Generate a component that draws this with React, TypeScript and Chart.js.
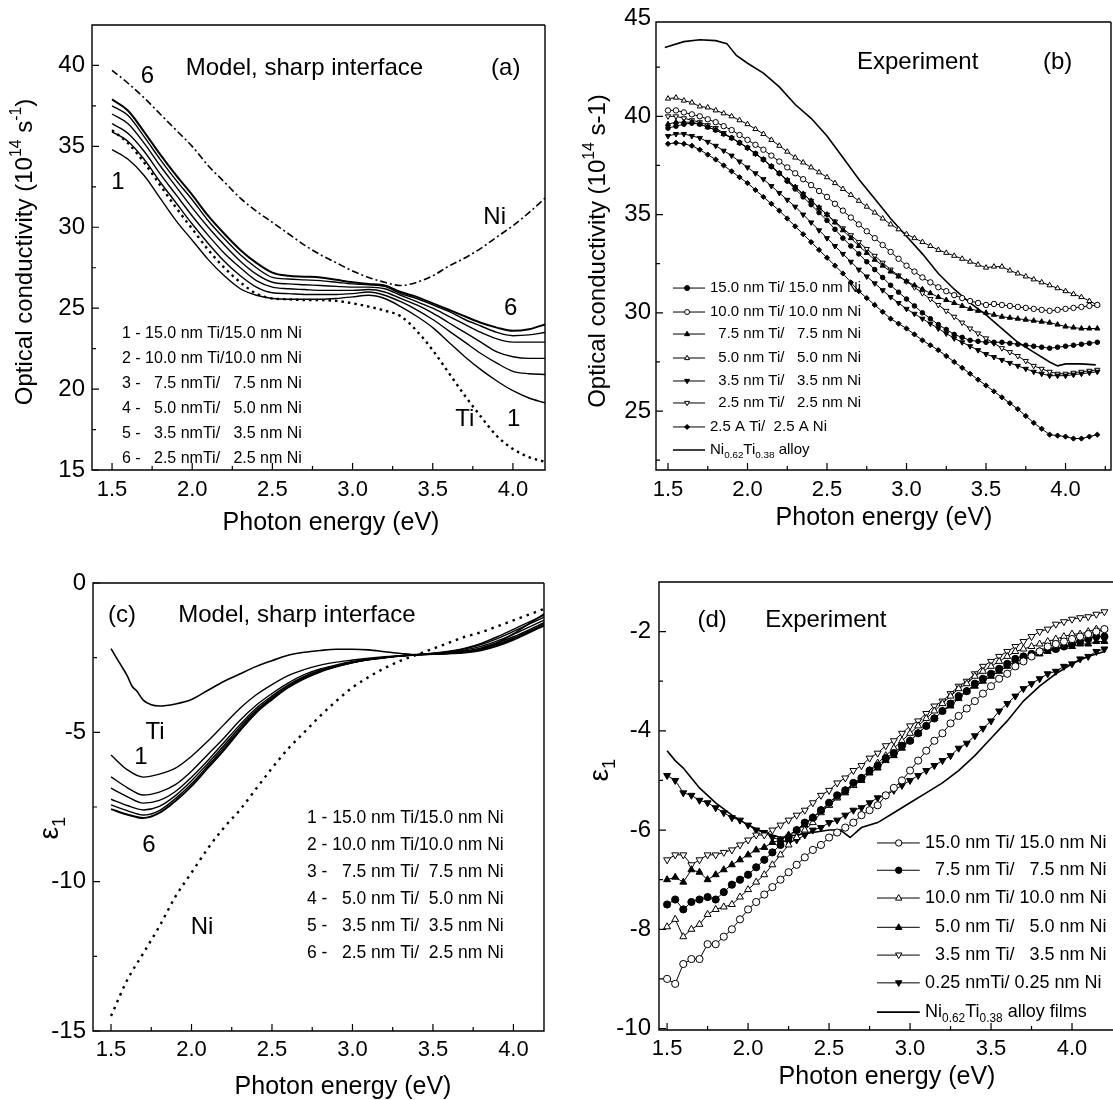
import React, { useEffect, useRef } from "react";
import { Chart, registerables } from "chart.js";
Chart.register(...registerables);

const FONT = '"Liberation Sans", Arial, Helvetica, sans-serif';

// ---------------- energy grids (eV) ----------------
const ENERGY = [1.5, 1.6, 1.7, 1.8, 1.9, 2.0, 2.1, 2.2, 2.3, 2.4, 2.5, 2.6, 2.7, 2.8, 2.9, 3.0, 3.1, 3.2, 3.3, 3.4, 3.5, 3.6, 3.7, 3.8, 3.9, 4.0, 4.1, 4.2];
const E_FINE = [1.5, 1.55, 1.6, 1.65, 1.7, 1.75, 1.8, 1.85, 1.9, 1.95, 2.0, 2.05, 2.1, 2.15, 2.2, 2.25, 2.3, 2.35, 2.4, 2.45, 2.5, 2.55, 2.6, 2.65, 2.7, 2.75, 2.8, 2.85, 2.9, 2.95, 3.0, 3.05, 3.1, 3.15, 3.2, 3.25, 3.3, 3.35, 3.4, 3.45, 3.5, 3.55, 3.6, 3.65, 3.7, 3.75, 3.8, 3.85, 3.9, 3.95, 4.0, 4.05, 4.1, 4.15, 4.2];

// ---------------- panel (a): model optical conductivity ----------------
const A_CURVE1 = [34.8, 34.2, 33.2, 31.8, 30.4, 29.2, 28.0, 27.0, 26.2, 25.8, 25.6, 25.55, 25.55, 25.55, 25.6, 25.7, 25.8, 25.6, 25.1, 24.5, 23.8, 22.9, 22.0, 21.2, 20.5, 19.9, 19.45, 19.15];
const A_CURVE2 = [35.9, 35.3, 34.2, 32.8, 31.5, 30.2, 29.0, 27.9, 27.0, 26.3, 25.95, 25.9, 25.85, 25.85, 25.85, 25.9, 26.0, 25.8, 25.4, 24.9, 24.3, 23.6, 22.9, 22.2, 21.6, 21.1, 20.95, 20.9];
const A_CURVE3 = [36.4, 35.8, 34.7, 33.3, 32.0, 30.7, 29.5, 28.4, 27.5, 26.7, 26.3, 26.2, 26.15, 26.1, 26.1, 26.1, 26.15, 26.0, 25.6, 25.2, 24.7, 24.1, 23.5, 22.9, 22.3, 22.0, 21.9, 21.9];
const A_CURVE4 = [37.0, 36.4, 35.2, 33.8, 32.5, 31.2, 30.0, 28.9, 27.9, 27.1, 26.6, 26.5, 26.45, 26.4, 26.35, 26.3, 26.3, 26.2, 25.8, 25.4, 25.0, 24.5, 24.0, 23.5, 23.1, 22.9, 22.9, 22.9];
const A_CURVE5 = [37.5, 36.9, 35.6, 34.2, 32.9, 31.7, 30.4, 29.3, 28.3, 27.5, 26.9, 26.8, 26.75, 26.7, 26.6, 26.5, 26.45, 26.35, 25.9, 25.6, 25.2, 24.8, 24.3, 23.9, 23.5, 23.3, 23.35, 23.5];
const A_CURVE6 = [37.9, 37.2, 35.9, 34.5, 33.2, 32.0, 30.7, 29.6, 28.6, 27.8, 27.2, 27.0, 26.95, 26.9, 26.75, 26.6, 26.5, 26.4, 26.0, 25.7, 25.3, 24.9, 24.5, 24.1, 23.8, 23.6, 23.7, 24.0];
const A_TI = [36.0, 35.2, 34.0, 32.6, 31.2, 29.9, 28.6, 27.5, 26.6, 25.9, 25.6, 25.55, 25.5, 25.5, 25.45, 25.3, 25.1, 24.85, 24.5, 23.6, 22.4, 21.0, 19.6, 18.3, 17.1, 16.3, 15.8, 15.5];
const A_NI = [39.7, 38.9, 38.0, 37.0, 36.0, 35.0, 33.8, 32.8, 31.8, 31.0, 30.3, 29.6, 28.9, 28.3, 27.8, 27.3, 26.9, 26.6, 26.4, 26.6, 27.0, 27.6, 28.1, 28.7, 29.4, 30.1, 30.9, 31.8];
const A_LEGEND = ["1 - 15.0 nm Ti/15.0 nm Ni", "2 - 10.0 nm Ti/10.0 nm Ni", "3 -   7.5 nmTi/   7.5 nm Ni", "4 -   5.0 nmTi/   5.0 nm Ni", "5 -   3.5 nmTi/   3.5 nm Ni", "6 -   2.5 nmTi/   2.5 nm Ni"];
const A_X_TICKS = [1.5, 2.0, 2.5, 3.0, 3.5, 4.0];
const A_X_MINOR = [1.75, 2.25, 2.75, 3.25, 3.75];
const A_Y_TICKS = [15, 20, 25, 30, 35, 40];
const A_Y_MINOR = [17.5, 22.5, 27.5, 32.5, 37.5];

// ---------------- panel (b): experimental optical conductivity ----------------
const B_15NM = [39.4, 39.5, 39.6, 39.65, 39.6, 39.45, 39.3, 39.1, 38.9, 38.65, 38.4, 38.1, 37.8, 37.45, 37.1, 36.7, 36.3, 35.9, 35.5, 35.1, 34.7, 34.25, 33.8, 33.4, 33.0, 32.6, 32.2, 31.8, 31.4, 31.05, 30.7, 30.35, 30.0, 29.7, 29.4, 29.15, 28.9, 28.75, 28.6, 28.55, 28.5, 28.5, 28.5, 28.45, 28.4, 28.35, 28.3, 28.25, 28.2, 28.25, 28.3, 28.35, 28.4, 28.45, 28.5];
const B_10NM = [40.3, 40.3, 40.2, 40.1, 40.0, 39.85, 39.7, 39.5, 39.3, 39.05, 38.8, 38.55, 38.3, 38.0, 37.7, 37.4, 37.1, 36.8, 36.5, 36.2, 35.9, 35.55, 35.2, 34.85, 34.5, 34.15, 33.8, 33.45, 33.1, 32.75, 32.4, 32.1, 31.8, 31.55, 31.3, 31.1, 30.9, 30.75, 30.6, 30.5, 30.4, 30.45, 30.4, 30.35, 30.3, 30.25, 30.2, 30.15, 30.1, 30.15, 30.2, 30.25, 30.3, 30.35, 30.4];
const B_7_5NM = [39.6, 39.7, 39.7, 39.7, 39.6, 39.45, 39.3, 39.1, 38.9, 38.65, 38.4, 38.1, 37.8, 37.45, 37.1, 36.75, 36.4, 36.05, 35.7, 35.35, 35.0, 34.6, 34.2, 33.8, 33.4, 33.05, 32.7, 32.4, 32.1, 31.85, 31.6, 31.4, 31.2, 31.0, 30.8, 30.65, 30.5, 30.35, 30.2, 30.1, 30.0, 29.9, 29.8, 29.75, 29.7, 29.65, 29.6, 29.55, 29.5, 29.4, 29.3, 29.25, 29.2, 29.2, 29.2];
const B_5NM = [40.9, 40.95, 40.8, 40.7, 40.5, 40.45, 40.3, 40.15, 40.0, 39.8, 39.6, 39.35, 39.1, 38.8, 38.5, 38.2, 37.9, 37.65, 37.4, 37.15, 36.9, 36.6, 36.3, 36.0, 35.7, 35.4, 35.1, 34.8, 34.5, 34.25, 34.0, 33.8, 33.6, 33.4, 33.2, 33.05, 32.9, 32.75, 32.6, 32.45, 32.3, 32.35, 32.35, 32.15, 32.0, 31.85, 31.7, 31.55, 31.4, 31.25, 31.1, 30.95, 30.8, 30.6, 30.4];
const B_3_5NM = [39.0, 39.1, 39.1, 39.0, 38.9, 38.7, 38.5, 38.25, 38.0, 37.7, 37.4, 37.1, 36.8, 36.45, 36.1, 35.75, 35.4, 35.0, 34.6, 34.2, 33.8, 33.4, 33.0, 32.6, 32.2, 31.85, 31.5, 31.15, 30.8, 30.5, 30.2, 29.95, 29.7, 29.45, 29.2, 28.95, 28.7, 28.5, 28.3, 28.1, 27.9, 27.75, 27.6, 27.45, 27.3, 27.15, 27.0, 26.9, 26.8, 26.8, 26.8, 26.85, 26.9, 26.95, 27.0];
const B_2_5NM = [40.0, 40.0, 39.9, 39.8, 39.7, 39.55, 39.4, 39.15, 38.9, 38.65, 38.4, 38.1, 37.8, 37.45, 37.1, 36.75, 36.4, 36.05, 35.7, 35.35, 35.0, 34.65, 34.3, 33.95, 33.6, 33.25, 32.9, 32.55, 32.2, 31.9, 31.6, 31.3, 31.0, 30.7, 30.4, 30.1, 29.8, 29.5, 29.2, 28.95, 28.7, 28.45, 28.2, 28.0, 27.8, 27.55, 27.3, 27.15, 27.0, 26.9, 26.9, 26.95, 27.0, 27.05, 27.1];
const B_2_5A = [38.6, 38.65, 38.6, 38.5, 38.3, 38.05, 37.8, 37.5, 37.2, 36.9, 36.6, 36.25, 35.9, 35.55, 35.2, 34.8, 34.4, 34.0, 33.6, 33.2, 32.8, 32.4, 32.0, 31.55, 31.1, 30.75, 30.4, 30.05, 29.7, 29.45, 29.2, 28.9, 28.6, 28.35, 28.1, 27.8, 27.5, 27.2, 26.9, 26.6, 26.3, 26.0, 25.7, 25.4, 25.1, 24.75, 24.4, 24.1, 23.8, 23.75, 23.7, 23.6, 23.6, 23.7, 23.8];
const B_ALLOY_E = [1.48, 1.6, 1.7, 1.8, 1.87, 1.93, 2.0, 2.1, 2.2, 2.3, 2.4, 2.5, 2.6, 2.7, 2.8, 2.9, 3.0, 3.1, 3.2, 3.3, 3.4, 3.5, 3.6, 3.7, 3.8, 3.9, 3.95, 4.0, 4.1, 4.19];
const B_ALLOY = [43.5, 43.8, 43.9, 43.85, 43.7, 43.1, 42.7, 42.2, 41.5, 40.6, 39.9, 39.0, 37.9, 36.8, 35.8, 34.8, 33.9, 33.0, 32.0, 31.2, 30.5, 29.9, 29.2, 28.5, 28.0, 27.5, 27.3, 27.4, 27.4, 27.35];
const B_LEGEND = ["15.0 nm Ti/ 15.0 nm Ni", "10.0 nm Ti/ 10.0 nm Ni", "  7.5 nm Ti/   7.5 nm Ni", "  5.0 nm Ti/   5.0 nm Ni", "  3.5 nm Ti/   3.5 nm Ni", "  2.5 nm Ti/   2.5 nm Ni", "2.5 A Ti/  2.5 A Ni"];
const B_X_TICKS = [1.5, 2.0, 2.5, 3.0, 3.5, 4.0];
const B_X_MINOR = [1.75, 2.25, 2.75, 3.25, 3.75, 4.25];
const B_Y_TICKS = [25, 30, 35, 40, 45];
const B_Y_MINOR = [22.5, 27.5, 32.5, 37.5, 42.5];

// ---------------- panel (c): model epsilon_1 ----------------
const C_CURVE1 = [-5.76, -6.25, -6.5, -6.4, -6.2, -5.8, -5.3, -4.75, -4.2, -3.75, -3.4, -3.1, -2.9, -2.75, -2.65, -2.58, -2.52, -2.47, -2.43, -2.4, -2.35, -2.28, -2.18, -2.02, -1.8, -1.55, -1.3, -1.05];
const C_CURVE2 = [-6.49, -6.85, -7.1, -7.0, -6.75, -6.3, -5.75, -5.2, -4.6, -4.1, -3.7, -3.35, -3.07, -2.88, -2.74, -2.63, -2.55, -2.49, -2.44, -2.4, -2.36, -2.3, -2.2, -2.06, -1.86, -1.62, -1.37, -1.12];
const C_CURVE3 = [-6.87, -7.15, -7.37, -7.28, -6.98, -6.5, -5.95, -5.35, -4.75, -4.2, -3.78, -3.42, -3.13, -2.92, -2.77, -2.65, -2.56, -2.49, -2.44, -2.4, -2.37, -2.32, -2.24, -2.12, -1.94, -1.72, -1.47, -1.22];
const C_CURVE4 = [-7.24, -7.45, -7.6, -7.48, -7.12, -6.62, -6.05, -5.45, -4.83, -4.27, -3.83, -3.46, -3.16, -2.94, -2.78, -2.66, -2.56, -2.5, -2.44, -2.4, -2.37, -2.33, -2.27, -2.17, -2.0, -1.8, -1.56, -1.3];
const C_CURVE5 = [-7.43, -7.62, -7.77, -7.62, -7.22, -6.72, -6.13, -5.52, -4.9, -4.32, -3.87, -3.48, -3.18, -2.96, -2.79, -2.66, -2.56, -2.5, -2.44, -2.4, -2.38, -2.35, -2.3, -2.21, -2.05, -1.85, -1.6, -1.35];
const C_CURVE6 = [-7.57, -7.75, -7.87, -7.7, -7.3, -6.8, -6.2, -5.6, -4.95, -4.35, -3.9, -3.5, -3.2, -2.97, -2.8, -2.66, -2.56, -2.5, -2.44, -2.4, -2.38, -2.36, -2.33, -2.25, -2.1, -1.9, -1.65, -1.4];
const C_TI_E = [1.5, 1.55, 1.6, 1.63, 1.66, 1.7, 1.75, 1.8, 1.9, 2.0, 2.1, 2.2, 2.3, 2.4, 2.5, 2.6, 2.7, 2.8, 2.9, 3.0, 3.1, 3.2, 3.3, 3.4, 3.5, 3.6, 3.7, 3.8, 3.9, 4.0, 4.1, 4.2];
const C_TI = [-2.2, -2.65, -3.1, -3.45, -3.62, -3.92, -4.08, -4.12, -4.05, -3.9, -3.6, -3.3, -3.05, -2.8, -2.6, -2.42, -2.32, -2.26, -2.22, -2.22, -2.24, -2.3, -2.36, -2.4, -2.38, -2.35, -2.3, -2.2, -2.0, -1.7, -1.35, -1.0];
const C_NI = [-14.5, -13.3, -12.4, -11.5, -10.5, -9.7, -8.9, -8.2, -7.6, -6.9, -6.2, -5.55, -5.0, -4.45, -3.95, -3.5, -3.15, -2.85, -2.6, -2.4, -2.2, -2.0, -1.8, -1.65, -1.45, -1.25, -1.05, -0.85];
const C_LEGEND = ["1 - 15.0 nm Ti/15.0 nm Ni", "2 - 10.0 nm Ti/10.0 nm Ni", "3 -   7.5 nm Ti/  7.5 nm Ni", "4 -   5.0 nm Ti/  5.0 nm Ni", "5 -   3.5 nm Ti/  3.5 nm Ni", "6 -   2.5 nm Ti/  2.5 nm Ni"];
const C_X_TICKS = [1.5, 2.0, 2.5, 3.0, 3.5, 4.0];
const C_X_MINOR = [1.75, 2.25, 2.75, 3.25, 3.75];
const C_Y_TICKS = [-15, -10, -5, 0];
const C_Y_MINOR = [-12.5, -7.5, -2.5];

// ---------------- panel (d): experimental epsilon_1 ----------------
const D_15NM = [-9.0, -9.1, -8.7, -8.6, -8.6, -8.3, -8.3, -8.15, -8.0, -7.8, -7.6, -7.45, -7.3, -7.15, -7.0, -6.85, -6.7, -6.55, -6.4, -6.3, -6.15, -6.05, -5.95, -5.85, -5.7, -5.6, -5.5, -5.3, -5.15, -5.0, -4.8, -4.6, -4.4, -4.2, -4.05, -3.85, -3.7, -3.55, -3.4, -3.25, -3.1, -2.95, -2.85, -2.7, -2.6, -2.5, -2.4, -2.3, -2.25, -2.2, -2.15, -2.1, -2.05, -2.0, -1.95];
const D_7_5NM = [-7.5, -7.4, -7.6, -7.45, -7.4, -7.35, -7.4, -7.25, -7.1, -7.0, -6.9, -6.75, -6.6, -6.45, -6.3, -6.15, -6.0, -5.85, -5.75, -5.6, -5.45, -5.3, -5.2, -5.05, -4.95, -4.8, -4.7, -4.55, -4.45, -4.3, -4.2, -4.05, -3.9, -3.75, -3.6, -3.45, -3.3, -3.2, -3.05, -2.95, -2.85, -2.75, -2.65, -2.55, -2.5, -2.45, -2.4, -2.35, -2.35, -2.3, -2.25, -2.2, -2.15, -2.1, -2.1];
const D_10NM = [-7.95, -7.8, -8.15, -8.0, -7.9, -7.7, -7.6, -7.55, -7.5, -7.35, -7.2, -7.05, -6.9, -6.7, -6.5, -6.3, -6.15, -6.0, -5.85, -5.65, -5.5, -5.35, -5.2, -5.1, -4.95, -4.8, -4.65, -4.5, -4.35, -4.2, -4.05, -3.9, -3.75, -3.6, -3.45, -3.3, -3.15, -3.05, -2.9, -2.8, -2.7, -2.6, -2.5, -2.4, -2.35, -2.3, -2.25, -2.2, -2.15, -2.1, -2.05, -2.05, -2.0, -1.95, -1.95];
const D_5NM = [-7.0, -6.95, -7.05, -6.8, -6.85, -7.0, -6.9, -6.8, -6.7, -6.6, -6.5, -6.4, -6.35, -6.25, -6.2, -6.1, -6.0, -5.9, -5.75, -5.6, -5.5, -5.35, -5.25, -5.1, -5.0, -4.85, -4.75, -4.6, -4.5, -4.35, -4.2, -4.05, -3.9, -3.75, -3.6, -3.5, -3.35, -3.2, -3.1, -3.0, -2.9, -2.8, -2.7, -2.6, -2.55, -2.5, -2.45, -2.4, -2.35, -2.3, -2.3, -2.25, -2.25, -2.2, -2.2];
const D_3_5NM = [-6.6, -6.5, -6.5, -6.7, -6.6, -6.5, -6.5, -6.45, -6.4, -6.3, -6.2, -6.1, -6.1, -6.0, -5.9, -5.8, -5.7, -5.6, -5.45, -5.3, -5.2, -5.05, -4.95, -4.8, -4.7, -4.55, -4.45, -4.3, -4.2, -4.05, -3.9, -3.8, -3.65, -3.5, -3.4, -3.25, -3.1, -3.0, -2.85, -2.7, -2.6, -2.5, -2.4, -2.3, -2.2, -2.1, -2.0, -1.95, -1.85, -1.8, -1.75, -1.72, -1.7, -1.65, -1.6];
const D_0_25NM = [-4.9, -5.0, -5.25, -5.3, -5.4, -5.45, -5.55, -5.65, -5.75, -5.8, -5.9, -6.0, -6.05, -6.15, -6.2, -6.25, -6.2, -6.1, -6.0, -5.95, -5.85, -5.8, -5.7, -5.6, -5.55, -5.45, -5.35, -5.3, -5.2, -5.1, -5.0, -4.9, -4.8, -4.7, -4.6, -4.5, -4.35, -4.25, -4.1, -3.95, -3.8, -3.6, -3.45, -3.3, -3.15, -3.05, -2.95, -2.85, -2.8, -2.7, -2.65, -2.55, -2.5, -2.4, -2.35];
const D_ALLOY_E = [1.5, 1.55, 1.6, 1.65, 1.7, 1.8, 1.9, 2.0, 2.1, 2.2, 2.3, 2.4, 2.5, 2.57, 2.63, 2.7, 2.8, 2.9, 3.0, 3.1, 3.2, 3.3, 3.4, 3.5, 3.6, 3.7, 3.8, 3.9, 4.0, 4.1, 4.2];
const D_ALLOY = [-4.4, -4.6, -4.75, -4.95, -5.15, -5.45, -5.7, -5.9, -6.05, -6.15, -6.1, -6.05, -6.0, -6.0, -6.15, -5.95, -5.85, -5.65, -5.45, -5.25, -5.05, -4.8, -4.5, -4.15, -3.8, -3.4, -3.1, -2.85, -2.65, -2.5, -2.4];
const D_LEGEND = ["15.0 nm Ti/ 15.0 nm Ni", "  7.5 nm Ti/   7.5 nm Ni", "10.0 nm Ti/ 10.0 nm Ni", "  5.0 nm Ti/   5.0 nm Ni", "  3.5 nm Ti/   3.5 nm Ni", "0.25 nmTi/ 0.25 nm Ni"];
const D_X_TICKS = [1.5, 2.0, 2.5, 3.0, 3.5, 4.0];
const D_X_MINOR = [1.75, 2.25, 2.75, 3.25, 3.75];
const D_Y_TICKS = [-10, -8, -6, -4, -2];
const D_Y_MINOR = [-9, -7, -5, -3];

// ---------------- helpers ----------------
type Seg = { t: string; sub?: boolean; sup?: boolean };
type MarkerKind = "circle" | "up" | "down" | "diamond";

const pts = (xs: number[], ys: number[]) => xs.map((x, i) => ({ x, y: ys[i] }));

function richWidth(ctx: CanvasRenderingContext2D, segs: Seg[], size: number) {
  let w = 0;
  for (const s of segs) {
    ctx.font = `${s.sub || s.sup ? size * 0.66 : size}px ${FONT}`;
    w += ctx.measureText(s.t).width;
  }
  return w;
}

function drawRich(ctx: CanvasRenderingContext2D, segs: Seg[] | string, x: number, y: number, size: number, align: "left" | "center" = "left") {
  const list: Seg[] = typeof segs === "string" ? [{ t: segs }] : segs;
  const w = richWidth(ctx, list, size);
  let cx = align === "center" ? x - w / 2 : x;
  ctx.textBaseline = "middle";
  ctx.textAlign = "left";
  for (const s of list) {
    const sz = s.sub || s.sup ? size * 0.66 : size;
    ctx.font = `${sz}px ${FONT}`;
    const dy = s.sub ? size * 0.34 : s.sup ? -size * 0.36 : 0;
    ctx.fillText(s.t, cx, y + dy);
    cx += ctx.measureText(s.t).width;
  }
}

function drawMarker(ctx: CanvasRenderingContext2D, kind: MarkerKind, x: number, y: number, r: number, filled: boolean) {
  ctx.beginPath();
  if (kind === "circle") ctx.arc(x, y, r, 0, Math.PI * 2);
  else if (kind === "up") {
    ctx.moveTo(x, y - r * 1.1);
    ctx.lineTo(x + r, y + r * 0.65);
    ctx.lineTo(x - r, y + r * 0.65);
    ctx.closePath();
  } else if (kind === "down") {
    ctx.moveTo(x, y + r * 1.1);
    ctx.lineTo(x + r, y - r * 0.65);
    ctx.lineTo(x - r, y - r * 0.65);
    ctx.closePath();
  } else {
    ctx.moveTo(x, y - r);
    ctx.lineTo(x + r, y);
    ctx.lineTo(x, y + r);
    ctx.lineTo(x - r, y);
    ctx.closePath();
  }
  ctx.fillStyle = filled ? "#000" : "#fff";
  ctx.fill();
  ctx.stroke();
}

type Ann = { segs: Seg[] | string; x: number; y: number; size: number; align?: "left" | "center" };
type LegendRow = { segs: Seg[] | string; y: number; kind?: MarkerKind; filled?: boolean; solid?: boolean };
type Legend = { x0: number; x1: number; xm: number; xt: number; size: number; r: number; rows: LegendRow[] };

interface PanelSpec {
  left: number; top: number; width: number; height: number;
  area: { l: number; t: number; r: number; b: number };
  xMin: number; xMax: number; yMin: number; yMax: number;
  xTicks: number[]; xMinor: number[]; yTicks: number[]; yMinor: number[];
  xDec: number; padX: number; padY: number; rightBorder: boolean;
  datasets: any[];
  anns: Ann[];
  legend?: Legend;
  xTitle: { x: number; y: number };
  yTitle: { x: number; y: number; segs: Seg[]; size: number };
}

function decor(spec: PanelSpec) {
  return {
    id: "decor",
    afterDraw(chart: any) {
      const ctx: CanvasRenderingContext2D = chart.ctx;
      const a = chart.chartArea;
      const xs = chart.scales.x;
      const ys = chart.scales.y;
      ctx.save();
      ctx.strokeStyle = "#000";
      ctx.fillStyle = "#000";
      ctx.lineWidth = 1.4;
      ctx.beginPath();
      ctx.moveTo(a.right, a.top);
      ctx.lineTo(a.left, a.top);
      ctx.lineTo(a.left, a.bottom);
      ctx.lineTo(a.right, a.bottom);
      if (spec.rightBorder) ctx.lineTo(a.right, a.top);
      ctx.stroke();
      ctx.lineWidth = 1.2;
      ctx.beginPath();
      const tick = (vals: number[], len: number, horiz: boolean) => {
        for (const v of vals) {
          if (horiz) {
            if (v < spec.xMin || v > spec.xMax) continue;
            const p = xs.getPixelForValue(v);
            ctx.moveTo(p, a.bottom);
            ctx.lineTo(p, a.bottom - len);
          } else {
            if (v < spec.yMin || v > spec.yMax) continue;
            const p = ys.getPixelForValue(v);
            ctx.moveTo(a.left, p);
            ctx.lineTo(a.left + len, p);
          }
        }
      };
      tick(spec.xTicks, 7, true);
      tick(spec.xMinor, 4, true);
      tick(spec.yTicks, 7, false);
      tick(spec.yMinor, 4, false);
      ctx.stroke();

      for (const an of spec.anns) {
        drawRich(ctx, an.segs, xs.getPixelForValue(an.x), ys.getPixelForValue(an.y), an.size, an.align || "center");
      }
      const lg = spec.legend;
      if (lg) {
        for (const row of lg.rows) {
          const py = ys.getPixelForValue(row.y);
          if (row.kind || row.solid) {
            ctx.lineWidth = row.solid ? 1.6 : 1;
            ctx.beginPath();
            ctx.moveTo(xs.getPixelForValue(lg.x0), py);
            ctx.lineTo(xs.getPixelForValue(lg.x1), py);
            ctx.stroke();
          }
          if (row.kind) {
            ctx.lineWidth = 1;
            drawMarker(ctx, row.kind, xs.getPixelForValue(lg.xm), py, lg.r, !!row.filled);
            ctx.fillStyle = "#000";
          }
          drawRich(ctx, row.segs, xs.getPixelForValue(lg.xt), py, lg.size, "left");
        }
      }
      ctx.fillStyle = "#000";
      drawRich(ctx, "Photon energy (eV)", spec.xTitle.x, spec.xTitle.y, 25, "center");
      ctx.save();
      ctx.translate(spec.yTitle.x, spec.yTitle.y);
      ctx.rotate(-Math.PI / 2);
      drawRich(ctx, spec.yTitle.segs, 0, 0, spec.yTitle.size, "center");
      ctx.restore();
      ctx.restore();
    },
  };
}

function Panel({ spec }: { spec: PanelSpec }) {
  const ref = useRef<HTMLCanvasElement | null>(null);
  useEffect(() => {
    if (!ref.current) return;
    const s = spec;
    const chart = new Chart(ref.current, {
      type: "line",
      data: { datasets: s.datasets },
      options: {
        responsive: false,
        animation: false,
        events: [],
        layout: { autoPadding: false, padding: { top: s.area.t, right: s.width - s.area.r, left: 0, bottom: 0 } },
        plugins: { legend: { display: false }, tooltip: { enabled: false } },
        scales: {
          x: {
            type: "linear",
            min: s.xMin,
            max: s.xMax,
            grid: { display: false, drawTicks: false },
            border: { display: false },
            afterBuildTicks: (sc: any) => { sc.ticks = s.xTicks.map((v) => ({ value: v })); },
            afterFit: (sc: any) => { sc.height = s.height - s.area.b; },
            ticks: {
              autoSkip: false,
              maxRotation: 0,
              padding: s.padX,
              color: "#000",
              font: { family: FONT, size: 22 },
              callback: (v: any) => Number(v).toFixed(s.xDec),
            },
          },
          y: {
            type: "linear",
            min: s.yMin,
            max: s.yMax,
            grid: { display: false, drawTicks: false },
            border: { display: false },
            afterBuildTicks: (sc: any) => { sc.ticks = s.yTicks.map((v) => ({ value: v })); },
            afterFit: (sc: any) => { sc.width = s.area.l; },
            ticks: {
              autoSkip: false,
              padding: s.padY,
              color: "#000",
              font: { family: FONT, size: 24 },
              callback: (v: any) => String(v),
            },
          },
        },
      } as any,
      plugins: [decor(s)],
    });
    return () => chart.destroy();
  }, [spec]);
  return (
    <canvas
      ref={ref}
      width={spec.width}
      height={spec.height}
      style={{ position: "absolute", left: spec.left, top: spec.top, width: spec.width, height: spec.height }}
    />
  );
}

// ---------------- dataset styles ----------------
const modelLine = (xs: number[], ys: number[], extra: any = {}) => ({
  data: pts(xs, ys),
  borderColor: "#000",
  backgroundColor: "#000",
  borderWidth: 1.4,
  pointRadius: 0,
  fill: false,
  cubicInterpolationMode: "monotone",
  ...extra,
});

const expSeries = (xs: number[], ys: number[], style: string, filled: boolean, r: number, rot = 0, lw = 1) => ({
  data: pts(xs, ys),
  borderColor: "#000",
  backgroundColor: "#000",
  borderWidth: lw,
  pointStyle: style,
  pointRotation: rot,
  pointRadius: r,
  pointBorderWidth: 1,
  pointBorderColor: "#000",
  pointBackgroundColor: filled ? "#000" : "#fff",
  fill: false,
  tension: 0,
});

const NI_ALLOY: Seg[] = [{ t: "Ni" }, { t: "0.62", sub: true }, { t: "Ti" }, { t: "0.38", sub: true }];

const SPEC_A: PanelSpec = {
  left: 0, top: 0, width: 556, height: 550,
  area: { l: 92, t: 25, r: 545, b: 470 },
  xMin: 1.375, xMax: 4.2, yMin: 15, yMax: 42.5,
  xTicks: A_X_TICKS, xMinor: A_X_MINOR, yTicks: A_Y_TICKS, yMinor: A_Y_MINOR,
  xDec: 1, padX: 7, padY: 7, rightBorder: true,
  datasets: [
    modelLine(ENERGY, A_CURVE1),
    modelLine(ENERGY, A_CURVE2),
    modelLine(ENERGY, A_CURVE3),
    modelLine(ENERGY, A_CURVE4),
    modelLine(ENERGY, A_CURVE5),
    modelLine(ENERGY, A_CURVE6, { borderWidth: 2 }),
    modelLine(ENERGY, A_TI, { borderDash: [2.5, 4], borderWidth: 2.4 }),
    modelLine(ENERGY, A_NI, { borderDash: [7, 3, 2, 3], borderWidth: 1.6 }),
  ],
  anns: [
    { segs: "Model, sharp interface", x: 2.70, y: 39.84, size: 24 },
    { segs: "(a)", x: 3.955, y: 39.84, size: 24 },
    { segs: "6", x: 1.72, y: 39.3, size: 24 },
    { segs: "1", x: 1.537, y: 32.8, size: 24 },
    { segs: "Ni", x: 3.886, y: 30.63, size: 24 },
    { segs: "6", x: 3.986, y: 25.0, size: 24 },
    { segs: "Ti", x: 3.70, y: 18.1, size: 24 },
    { segs: "1", x: 4.005, y: 18.1, size: 24 },
  ],
  legend: {
    x0: 0, x1: 0, xm: 0, xt: 1.562, size: 16, r: 0,
    rows: A_LEGEND.map((t, i) => ({ segs: t, y: [23.46, 21.86, 20.31, 18.77, 17.22, 15.68][i] })),
  },
  xTitle: { x: 331, y: 523 },
  yTitle: { x: 25, y: 252, size: 24, segs: [{ t: "Optical conductivity (10" }, { t: "14", sup: true }, { t: " s" }, { t: "-1", sup: true }, { t: ")" }] },
};

const SPEC_B: PanelSpec = {
  left: 556, top: 0, width: 557, height: 550,
  area: { l: 100, t: 22, r: 555, b: 470 },
  xMin: 1.4245, xMax: 4.286, yMin: 22, yMax: 44.8,
  xTicks: B_X_TICKS, xMinor: B_X_MINOR, yTicks: B_Y_TICKS, yMinor: B_Y_MINOR,
  xDec: 1, padX: 7, padY: 5, rightBorder: true,
  datasets: [
    expSeries(E_FINE, B_15NM, "circle", true, 2.3),
    expSeries(E_FINE, B_10NM, "circle", false, 2.7),
    expSeries(E_FINE, B_7_5NM, "triangle", true, 3),
    expSeries(E_FINE, B_5NM, "triangle", false, 3),
    expSeries(E_FINE, B_3_5NM, "triangle", true, 3, 180),
    expSeries(E_FINE, B_2_5NM, "triangle", false, 3, 180),
    expSeries(E_FINE, B_2_5A, "rectRot", true, 2.6),
    modelLine(B_ALLOY_E, B_ALLOY, { borderWidth: 1.6, cubicInterpolationMode: "default", tension: 0 }),
  ],
  anns: [
    { segs: "Experiment", x: 3.07, y: 42.76, size: 24 },
    { segs: "(b)", x: 3.95, y: 42.76, size: 24 },
  ],
  legend: {
    x0: 1.531, x1: 1.733, xm: 1.62, xt: 1.764, size: 15, r: 2.5,
    rows: [
      { segs: B_LEGEND[0], y: 31.26, kind: "circle", filled: true },
      { segs: B_LEGEND[1], y: 30.04, kind: "circle", filled: false },
      { segs: B_LEGEND[2], y: 28.92, kind: "up", filled: true },
      { segs: B_LEGEND[3], y: 27.7, kind: "up", filled: false },
      { segs: B_LEGEND[4], y: 26.53, kind: "down", filled: true },
      { segs: B_LEGEND[5], y: 25.41, kind: "down", filled: false },
      { segs: B_LEGEND[6], y: 24.19, kind: "diamond", filled: true },
      { segs: [...NI_ALLOY, { t: " alloy" }], y: 23.02, solid: true },
    ],
  },
  xTitle: { x: 328, y: 518 },
  yTitle: { x: 42, y: 251, size: 24, segs: [{ t: "Optical conductivity (10" }, { t: "14", sup: true }, { t: " s-1)" }] },
};

const SPEC_C: PanelSpec = {
  left: 0, top: 550, width: 556, height: 550,
  area: { l: 93, t: 33, r: 544, b: 481 },
  xMin: 1.388, xMax: 4.19, yMin: -15, yMax: 0,
  xTicks: C_X_TICKS, xMinor: C_X_MINOR, yTicks: C_Y_TICKS, yMinor: C_Y_MINOR,
  xDec: 1, padX: 6, padY: 7, rightBorder: true,
  datasets: [
    modelLine(ENERGY, C_CURVE1),
    modelLine(ENERGY, C_CURVE2),
    modelLine(ENERGY, C_CURVE3),
    modelLine(ENERGY, C_CURVE4),
    modelLine(ENERGY, C_CURVE5),
    modelLine(ENERGY, C_CURVE6, { borderWidth: 2 }),
    modelLine(C_TI_E, C_TI, { borderWidth: 1.6 }),
    modelLine(ENERGY, C_NI, { borderDash: [2.5, 5], borderWidth: 2.4 }),
  ],
  anns: [
    { segs: "(c)", x: 1.568, y: -1.07, size: 24 },
    { segs: "Model, sharp interface", x: 2.655, y: -1.07, size: 24 },
    { segs: "Ti", x: 1.773, y: -4.99, size: 24 },
    { segs: "1", x: 1.686, y: -5.83, size: 24 },
    { segs: "6", x: 1.736, y: -8.77, size: 24 },
    { segs: "Ni", x: 2.065, y: -11.52, size: 24 },
  ],
  legend: {
    x0: 0, x1: 0, xm: 0, xt: 2.717, size: 17.5, r: 0,
    rows: C_LEGEND.map((t, i) => ({ segs: t, y: [-7.87, -8.77, -9.68, -10.58, -11.48, -12.39][i] })),
  },
  xTitle: { x: 343, y: 537 },
  yTitle: { x: 50, y: 278, size: 28, segs: [{ t: "ε" }, { t: "1", sub: true }] },
};

const SPEC_D: PanelSpec = {
  left: 556, top: 550, width: 557, height: 550,
  area: { l: 103, t: 32, r: 557, b: 480 },
  xMin: 1.45, xMax: 4.253, yMin: -10.03, yMax: -1,
  xTicks: D_X_TICKS, xMinor: D_X_MINOR, yTicks: D_Y_TICKS, yMinor: D_Y_MINOR,
  xDec: 1, padX: 6, padY: 8, rightBorder: false,
  datasets: [
    expSeries(E_FINE, D_15NM, "circle", false, 3.6),
    expSeries(E_FINE, D_7_5NM, "circle", true, 3.6),
    expSeries(E_FINE, D_10NM, "triangle", false, 4),
    expSeries(E_FINE, D_5NM, "triangle", true, 4),
    expSeries(E_FINE, D_3_5NM, "triangle", false, 4, 180),
    expSeries(E_FINE, D_0_25NM, "triangle", true, 4, 180),
    modelLine(D_ALLOY_E, D_ALLOY, { borderWidth: 1.6, cubicInterpolationMode: "default", tension: 0 }),
  ],
  anns: [
    { segs: "(d)", x: 1.778, y: -1.77, size: 24 },
    { segs: "Experiment", x: 2.48, y: -1.77, size: 24 },
  ],
  legend: {
    x0: 2.796, x1: 3.06, xm: 2.93, xt: 3.093, size: 18, r: 3.2,
    rows: [
      { segs: D_LEGEND[0], y: -6.26, kind: "circle", filled: false },
      { segs: D_LEGEND[1], y: -6.81, kind: "circle", filled: true },
      { segs: D_LEGEND[2], y: -7.37, kind: "up", filled: false },
      { segs: D_LEGEND[3], y: -7.96, kind: "up", filled: true },
      { segs: D_LEGEND[4], y: -8.52, kind: "down", filled: false },
      { segs: D_LEGEND[5], y: -9.08, kind: "down", filled: true },
      { segs: [...NI_ALLOY, { t: " alloy films" }], y: -9.67, solid: true },
    ],
  },
  xTitle: { x: 331, y: 527 },
  yTitle: { x: 44, y: 220, size: 28, segs: [{ t: "ε" }, { t: "1", sub: true }] },
};

export default function App() {
  return (
    <div style={{ position: "absolute", left: 0, top: 0, width: 1113, height: 1100, overflow: "hidden", background: "#fff" }}>
      <Panel spec={SPEC_A} />
      <Panel spec={SPEC_B} />
      <Panel spec={SPEC_C} />
      <Panel spec={SPEC_D} />
    </div>
  );
}
